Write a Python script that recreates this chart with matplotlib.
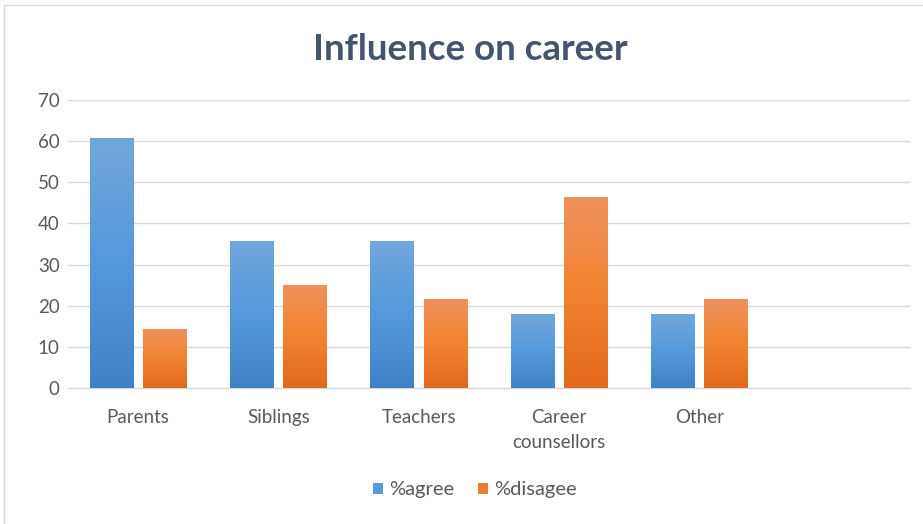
import matplotlib
matplotlib.use("Agg")
import matplotlib.pyplot as plt
import numpy as np
from matplotlib.colors import LinearSegmentedColormap
from matplotlib.patches import Rectangle

categories = ["Parents", "Siblings", "Teachers", "Career\ncounsellors", "Other", ""]
agree = [60.7, 35.7, 35.7, 17.9, 17.9, np.nan]
disagree = [14.3, 25.0, 21.4, 46.4, 21.4, np.nan]
series_names = ["%agree", "%disagee"]
yticks = [0, 10, 20, 30, 40, 50, 60, 70]

plt.rcParams['font.family'] = ['Lato', 'DejaVu Sans']

fig = plt.figure(figsize=(9.23, 5.24), dpi=100)
fig.patch.set_facecolor("white")
ax = fig.add_axes([68/923, 1-388/524, (910-68)/923, (388-100)/524])

x = np.arange(len(categories))
w = 0.31
off = 0.19
blue_solid = "#5b9bd5"
orange_solid = "#ed7d31"
b1 = ax.bar(x - off, agree, w, color=blue_solid, zorder=2, label=series_names[0])
b2 = ax.bar(x + off, disagree, w, color=orange_solid, zorder=2, label=series_names[1])

cm_blue = LinearSegmentedColormap.from_list("b", ["#3f83c6", "#5499db", "#72a7dc"])
cm_orange = LinearSegmentedColormap.from_list("o", ["#e2681a", "#f28430", "#ef915d"])
grad = np.linspace(0, 1, 256).reshape(-1, 1)
for bars, cm in ((b1, cm_blue), (b2, cm_orange)):
    for p in bars:
        h = p.get_height()
        if not np.isfinite(h) or h <= 0:
            continue
        x0 = p.get_x()
        ax.imshow(grad, cmap=cm, origin="lower", aspect="auto",
                  extent=(x0, x0 + p.get_width(), 0, h), zorder=3)

ax.set_xlim(-0.5, len(categories) - 0.5)
ax.set_ylim(0, 70)
ax.set_yticks(yticks)
ax.set_xticks(x)
ax.set_xticklabels(categories)
ax.tick_params(axis="both", length=0, colors="#595959", labelsize=13.5)
ax.tick_params(axis="y", pad=6)
ax.tick_params(axis="x", pad=15)
for lbl in ax.get_xticklabels():
    lbl.set_linespacing(1.6)
ax.grid(axis="y", color="#d9d9d9", lw=1, zorder=0)
for s in ["top", "right", "left"]:
    ax.spines[s].set_visible(False)
ax.spines["bottom"].set_color("#d9d9d9")
ax.spines["bottom"].set_linewidth(1)
ax.set_axisbelow(True)

fig.text(470/923, 1-50/524, "Influence on career", ha="center", va="center",
         fontsize=26.5, fontweight="bold", color="#44546a")

leg = fig.legend(handles=[b1, b2], labels=series_names, loc="center",
                 bbox_to_anchor=(475/923, 1-490/524), ncol=2, frameon=False,
                 fontsize=14.5, handlelength=0.5, handleheight=0.5,
                 handletextpad=0.3, columnspacing=1.2, labelcolor="#595959")

fig.add_artist(Rectangle((4/923, -0.05), 1.0, 1 - 5/524 + 0.05, transform=fig.transFigure,
                         fill=False, edgecolor="#d9d9d9", lw=1))

fig.savefig("out.png", dpi=100, facecolor="white")
